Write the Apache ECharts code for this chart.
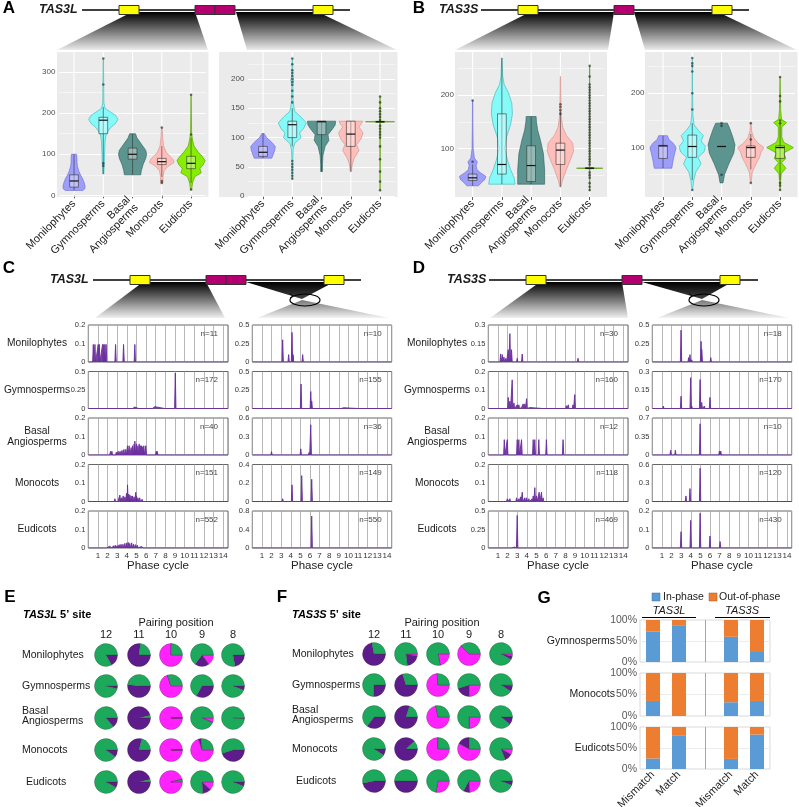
<!DOCTYPE html>
<html><head><meta charset="utf-8">
<script src="https://cdn.jsdelivr.net/npm/echarts/dist/echarts.min.js"></script>
<style>html,body{margin:0;padding:0;background:#fff}#c{width:799px;height:807px}</style>
</head><body><div id="c"></div>
<script>
const FONT = "'Liberation Sans', Arial, Helvetica, sans-serif";
const groups = ['Monilophytes','Gymnosperms','Basal\nAngiosperms','Monocots','Eudicots'];
const rowNames = ['Monilophytes','Gymnosperms','Basal\nAngiosperms','Monocots','Eudicots'];
const violinFill = ['#9d9dfa','#86f9f9','#5c9590','#ffbeb9','#86ee00'];
const violinLine = ['#6a6ad0','#39b3b3','#2e5d59','#cf8e89','#4f9000'];

// ---- Panel A (TAS3L) violins: [value, half-width in category bands]
const aL_shapes = [
  [[12,0.3],[16,0.37],[22,0.38],[30,0.35],[40,0.3],[50,0.22],[60,0.16],[70,0.12],[80,0.1],[90,0.1],[100,0.09]],
  [[52,0.02],[70,0.03],[90,0.04],[110,0.05],[130,0.06],[150,0.1],[165,0.25],[175,0.42],[185,0.5],[195,0.42],[205,0.2],[212,0.06],[225,0.02],[260,0.015],[300,0.01],[333,0.005]],
  [[50,0.28],[60,0.3],[75,0.36],[90,0.45],[100,0.48],[110,0.45],[125,0.3],[140,0.15],[150,0.1]],
  [[30,0.04],[45,0.04],[60,0.08],[70,0.2],[80,0.42],[88,0.38],[95,0.28],[105,0.15],[120,0.06],[140,0.03],[165,0.01]],
  [[14,0.02],[30,0.05],[45,0.12],[55,0.35],[65,0.3],[75,0.42],[85,0.48],[95,0.38],[105,0.25],[120,0.1],[135,0.05],[150,0.02],[200,0.01],[245,0.005]]
];
const aL_box = [[12,20,35,50,100],[52,150,183,190,215],[50,88,100,115,150],[45,75,82,90,120],[30,65,78,95,140]];
const aL_out = [[1,270],[1,333],[1,72],[1,78],[3,30],[3,35],[3,165],[4,14],[4,148],[4,245]];

const aR_shapes = [
  [[65,0.3],[70,0.34],[78,0.4],[85,0.42],[92,0.3],[100,0.12],[107,0.04]],
  [[30,0.01],[60,0.015],[80,0.03],[90,0.08],[100,0.3],[108,0.25],[115,0.38],[125,0.48],[135,0.3],[145,0.08],[160,0.03],[190,0.02],[198,0.05],[205,0.02],[235,0.005]],
  [[42,0.03],[55,0.03],[70,0.05],[85,0.12],[95,0.25],[105,0.22],[115,0.38],[122,0.47],[128,0.48]],
  [[42,0.02],[55,0.05],[65,0.12],[78,0.28],[88,0.2],[98,0.35],[108,0.42],[118,0.28],[125,0.38],[128,0.4]],
  [[10,0.005],[126,0.012],[127,0.5],[128,0.012],[170,0.005]]
];
const aR_box = [[65,68,75,85,107],[85,100,122,128,150],[42,105,127,128,128],[42,85,106,128,128],[127,127,127,127,127]];
const aR_out = [[1,30],[1,35],[1,40],[1,45],[1,50],[1,55],[1,60],[1,160],[1,170],[1,180],[1,190],[1,195],[1,200],[1,205],[1,210],[1,215],[1,225],[1,235],
  [4,10],[4,25],[4,42],[4,63],[4,85],[4,100],[4,105],[4,110],[4,115],[4,120],[4,130],[4,135],[4,140],[4,145],[4,150],[4,160],[4,170]];

// ---- Panel B (TAS3S) violins
const bL_shapes = [
  [[30,0.2],[36,0.3],[42,0.42],[48,0.45],[54,0.28],[60,0.15],[68,0.12],[75,0.16],[82,0.06],[100,0.02],[140,0.01],[190,0.005]],
  [[33,0.45],[45,0.42],[60,0.3],[80,0.18],[100,0.1],[120,0.15],[145,0.3],[165,0.36],[185,0.34],[205,0.22],[220,0.08],[235,0.03],[270,0.005]],
  [[33,0.46],[60,0.46],[90,0.42],[115,0.32],[135,0.22],[150,0.18],[160,0.17]],
  [[28,0.02],[40,0.07],[60,0.2],[80,0.35],[95,0.45],[110,0.42],[125,0.2],[140,0.08],[160,0.03],[190,0.015],[235,0.005]],
  [[20,0.005],[62,0.01],[63,0.45],[64,0.01],[255,0.005]]
];
const bL_box = [[30,40,45,52,70],[33,52,70,165,270],[33,38,68,105,160],[28,70,97,110,170],[63,63,63,63,63]];
const bL_out = [[0,75],[0,190],[3,165],[3,172],[3,178],[3,183],
  [4,22],[4,28],[4,35],[4,45],[4,50],[4,55],[4,70],[4,75],[4,80],[4,85],[4,90],[4,95],[4,100],[4,105],[4,110],[4,115],[4,120],[4,125],[4,130],[4,135],[4,140],[4,145],[4,150],[4,155],[4,160],[4,165],[4,170],[4,175],[4,180],[4,185],[4,190],[4,195],[4,200],[4,205],[4,210],[4,215],[4,220],[4,235],[4,255]];

const bR_shapes = [
  [[62,0.3],[75,0.34],[90,0.4],[100,0.45],[108,0.35],[115,0.2],[122,0.15]],
  [[22,0.01],[40,0.05],[55,0.12],[70,0.3],[82,0.2],[92,0.4],[102,0.45],[112,0.3],[122,0.38],[132,0.2],[142,0.06],[160,0.02],[200,0.01],[265,0.005]],
  [[35,0.05],[50,0.1],[70,0.25],[90,0.42],[105,0.46],[120,0.38],[135,0.28],[145,0.2]],
  [[35,0.01],[55,0.05],[70,0.18],[82,0.3],[92,0.35],[100,0.45],[108,0.25],[118,0.1],[130,0.03],[145,0.01]],
  [[22,0.005],[40,0.02],[52,0.04],[62,0.2],[72,0.05],[80,0.2],[90,0.12],[100,0.46],[110,0.12],[120,0.06],[138,0.06],[146,0.22],[152,0.05],[170,0.02],[230,0.005]]
];
const bR_box = [[62,80,103,104,122],[40,82,102,123,145],[102,102,102,102,102],[60,82,100,103,125],[40,80,100,103,145]];
const bR_out = [[1,22],[1,170],[1,200],[1,240],[1,250],[1,255],[1,265],[2,50],[2,140],[2,145],[3,35],[3,115],[3,145],[4,22],[4,30],[4,35],[4,145],[4,150],[4,185],[4,195],[4,230]];

// ---- Panels C / D: phasing spikes [phase cycle, fraction]
const cL_moni  = [[0.52,0.095],[0.69,0.095],[1.03,0.095],[1.14,0.095],[1.48,0.095],[1.6,0.095],[1.72,0.095],[1.85,0.095],[2.83,0.095],[3.66,0.095],[4.83,0.095]];
const cL_gymno = [[2.59,0.008],[3.62,0.015],[4.66,0.015],[4.83,0.02],[5.28,0.012],[5.86,0.01],[6.72,0.02],[6.9,0.025],[7.0,0.03],[8.0,0.02],[9.03,0.48],[9.66,0.008]];
const cL_basal = [[2.3,0.02],[2.45,0.02],[2.9,0.015],[3.1,0.02],[3.3,0.02],[3.5,0.025],[3.7,0.03],[3.9,0.03],[4.07,0.05],[4.24,0.05],[4.45,0.04],[4.6,0.05],[4.76,0.06],[4.83,0.075],[5.0,0.06],[5.15,0.05],[5.28,0.06],[5.4,0.05],[5.52,0.05],[5.65,0.045],[5.76,0.05],[5.97,0.05],[7.05,0.02],[7.15,0.02]];
const cL_mono  = [[1.55,0.008],[2.76,0.015],[3.0,0.01],[3.28,0.035],[3.45,0.02],[3.62,0.03],[3.8,0.025],[3.97,0.045],[4.07,0.09],[4.2,0.04],[4.31,0.035],[4.45,0.03],[4.59,0.03],[4.75,0.025],[4.93,0.05],[5.0,0.03],[5.15,0.02],[5.34,0.02],[5.59,0.012],[7.86,0.005]];
const cL_eudi  = [[0.9,0.002],[1.5,0.003],[2.0,0.006],[2.2,0.01],[2.4,0.015],[2.6,0.012],[2.8,0.015],[3.0,0.013],[3.2,0.018],[3.4,0.02],[3.6,0.02],[3.8,0.025],[4.0,0.028],[4.15,0.03],[4.3,0.025],[4.5,0.028],[4.7,0.022],[4.9,0.018],[5.1,0.015],[5.3,0.01],[5.5,0.008],[5.8,0.005],[6.2,0.003],[6.7,0.002]];
const cR_moni  = [[3.16,0.3],[3.78,0.1],[4.13,0.4],[4.24,0.1],[5.24,0.1]];
const cR_gymno = [[1.5,0.004],[3.1,0.004],[4.1,0.02],[5.07,0.33],[6.08,0.23],[6.18,0.1],[6.35,0.01],[6.6,0.01],[6.9,0.008],[7.3,0.005],[9.3,0.008],[9.5,0.01],[11.1,0.005]];
const cR_basal = [[2.0,0.055],[4.03,0.025],[5.04,0.1],[5.9,0.04],[6.08,0.49]];
const cR_mono  = [[2.1,0.005],[3.16,0.03],[4.13,0.18],[5.14,0.28],[6.18,0.24]];
const cR_eudi  = [[4.13,0.01],[5.1,0.02],[6.18,0.69]];
const dL_moni  = [[1.28,0.065],[1.45,0.06],[1.62,0.04],[1.83,0.03],[2.07,0.1],[2.24,0.23],[2.41,0.1],[3.0,0.03],[3.52,0.065],[9.31,0.03]];
const dL_gymno = [[1.7,0.005],[2.07,0.06],[2.24,0.04],[2.48,0.155],[2.66,0.03],[3.0,0.02],[3.17,0.02],[3.45,0.005],[3.62,0.025],[3.79,0.025],[3.97,0.053],[4.3,0.005],[5.69,0.008],[6.03,0.01],[7.41,0.008],[7.76,0.01],[8.1,0.015],[8.3,0.02],[8.79,0.02],[8.97,0.075],[9.66,0.005],[12.9,0.005]];
const dL_basal = [[1.66,0.083],[1.97,0.083],[3.0,0.083],[3.17,0.083],[3.45,0.083],[4.66,0.083],[4.83,0.083],[5.24,0.083],[6.03,0.083],[7.76,0.083]];
const dL_mono  = [[1.55,0.005],[1.97,0.015],[2.24,0.015],[2.59,0.01],[2.93,0.02],[3.17,0.015],[3.34,0.025],[3.52,0.05],[3.79,0.02],[3.97,0.02],[4.21,0.015],[4.55,0.015],[4.66,0.03],[4.83,0.075],[5.0,0.03],[5.28,0.05],[5.52,0.05],[5.69,0.02],[5.93,0.01],[6.45,0.005],[6.79,0.005],[7.41,0.005],[8.21,0.005],[8.52,0.005],[11.38,0.005]];
const dL_eudi  = [[2.0,0.004],[2.5,0.01],[2.7,0.012],[2.85,0.01],[3.0,0.44],[3.2,0.008],[4.6,0.005],[5.0,0.005],[5.5,0.004]];
const dR_moni  = [[1.2,0.01],[1.5,0.012],[1.8,0.012],[2.1,0.012],[2.5,0.015],[2.99,0.43],[3.78,0.06],[3.92,0.1],[4.1,0.03],[4.5,0.005],[5.07,0.28],[5.14,0.17],[6.08,0.06]];
const dR_gymno = [[1.15,0.02],[2.47,0.01],[2.99,0.1],[3.99,0.25],[4.1,0.02],[4.97,0.235],[5.14,0.05],[5.42,0.02],[6.0,0.09],[7.05,0.005],[9.93,0.01],[11.8,0.005],[12.15,0.005],[12.5,0.005]];
const dR_basal = [[1.91,0.09],[2.4,0.09],[4.97,0.59],[6.98,0.075],[7.12,0.075]];
const dR_mono  = [[1.84,0.01],[3.5,0.09],[3.92,0.21],[4.97,0.54],[6.0,0.005],[7.1,0.005]];
const dR_eudi  = [[1.0,0.003],[1.9,0.004],[2.4,0.004],[2.99,0.088],[3.99,0.149],[4.97,0.188],[6.0,0.065],[7.05,0.035],[8.8,0.005],[10.5,0.002]];
const cL_ymax = [0.2,0.5,0.2,0.2,0.2], cR_ymax = [0.5,0.5,0.6,0.4,0.8];
const dL_ymax = [0.3,0.2,0.2,0.2,0.5], dR_ymax = [0.5,0.3,0.7,0.6,0.2];
const cL_n = [11,172,40,151,552], cR_n = [10,155,36,149,550];
const dL_n = [30,160,12,118,469], dR_n = [18,170,10,120,430];
const phaseTicks = [1,2,3,4,5,6,7,8,9,10,11,12,13,14];

// ---- Panels E / F pies: [magenta, purple, green] percents, columns = pairing positions
const pairPos = ['12','11','10','9','8'];
const e_moni  = [[0,17,83],[0,77,23],[75,0.5,24.5],[15,20,65],[0,22,78]];
const e_gymno = [[0,4,96],[0,52,48],[70,0,30],[0,33,67],[0,6,94]];
const e_basal = [[0,14,86],[0,96,4],[99.5,0.5,0],[6,1,93],[0,1,99]];
const e_mono  = [[0,10,90],[0,79,21],[99.5,0.5,0],[70,4,26],[0,45,55]];
const e_eudi  = [[0,8,92],[0,96,4],[96,1,3],[12,12,76],[0,6,94]];
const f_moni  = [[0,72,28],[3,20,77],[22,0,78],[63,0,37],[3,5,92]];
const f_gymno = [[0,25,75],[0,70,30],[74,0,26],[25,20,55],[1,8,91]];
const f_basal = [[0,35,65],[0,80,20],[72,0,28],[25,0,75],[0,11,89]];
const f_mono  = [[0,9,91],[0,88,12],[75,0,25],[58,17,25],[8,11,81]];
const f_eudi  = [[0,47,53],[0,50,50],[28,0,72],[24,9,67],[0,6,94]];

// ---- Panel G stacked bars (%)
const gCats = ['Mismatch','Match','','Mismatch','Match'];
const gRows = ['Gymnosperms','Monocots','Eudicots'];
const gGymnoIn  = [73, 86, null, 60, 26];
const gGymnoOut = [27, 14, null, 40, 74];
const gMonoIn   = [35, 0, null, 32, 35];
const gMonoOut  = [65, 100, null, 68, 65];
const gEudiIn   = [25, 79, null, 24, 82];
const gEudiOut  = [75, 21, null, 76, 18];

// ================= build =================
const chart = echarts.init(document.getElementById('c'), null, {renderer:'canvas', width:799, height:807});
const option = {animation:false, backgroundColor:'#fff', textStyle:{fontFamily:FONT}, grid:[], xAxis:[], yAxis:[], series:[], graphic:{elements:[]}};
const G = option.graphic.elements;

function txt(x, y, text, o) {
  o = o || {};
  const st = {text:text, fill:o.color||'#1a1a1a', fontSize:o.size||11, fontFamily:FONT,
    fontWeight:o.weight||'normal', fontStyle:o.italic?'italic':'normal',
    textAlign:o.align||'left', align:o.align||'left', textVerticalAlign:o.va||'middle', verticalAlign:o.va||'middle',
    lineHeight:o.lh||undefined};
  if (o.rich) st.rich = o.rich;
  return {type:'text', x:x, y:y, z:20, silent:true, style:st};
}

function violinRender(shapes) {
  return function(params, api) {
    const i = api.value(0);
    const band = api.size([1, 0])[0];
    const cs = params.coordSys;
    const cx = api.coord([i, 0])[0];
    const shp = shapes[i];
    const right = shp.map(p => [cx + p[1]*band, api.coord([i, p[0]])[1]]);
    const left = shp.slice().reverse().map(p => [cx - p[1]*band, api.coord([i, p[0]])[1]]);
    const y = k => api.coord([i, api.value(k)])[1];
    const lo = y(1), q1 = y(2), med = y(3), q3 = y(4), hi = y(5);
    const bw = band*0.15;
    return {type:'group', children:[
      {type:'line', shape:{x1:cx, y1:cs.y, x2:cx, y2:cs.y+cs.height}, style:{stroke:'#fff', lineWidth:1.1}},
      {type:'polygon', shape:{points:right.concat(left)}, style:{fill:violinFill[i], stroke:violinLine[i], lineWidth:0.6}},
      {type:'line', shape:{x1:cx, y1:lo, x2:cx, y2:hi}, style:{stroke:'#333', lineWidth:0.6}},
      {type:'rect', shape:{x:cx-bw, y:q3, width:2*bw, height:Math.max(q1-q3,0)}, style:{fill:'rgba(255,255,255,0.35)', stroke:'#333', lineWidth:0.6}},
      {type:'line', shape:{x1:cx-bw, y1:med, x2:cx+bw, y2:med}, style:{stroke:'#111', lineWidth:1.2}}
    ]};
  };
}

function addViolin(p) {
  const gi = option.grid.length, xi = option.xAxis.length, yi = option.yAxis.length;
  option.grid.push({left:p.left, top:52, width:p.width, height:145, containLabel:false, outerBoundsMode:'none'});
  option.xAxis.push({gridIndex:gi, type:'category', data:groups, boundaryGap:true,
    axisLine:{show:false}, axisTick:{show:true, alignWithLabel:true, length:3, lineStyle:{color:'#333', width:0.8}},
    axisLabel:{interval:0, rotate:45, fontSize:11, color:'#1a1a1a', margin:5, lineHeight:11, hideOverlap:false}, splitLine:{show:false}});
  option.yAxis.push({gridIndex:gi, type:'value', min:p.ymin, max:p.ymax, minInterval:p.major, maxInterval:p.major,
    axisLine:{show:false}, axisTick:{show:false},
    axisLabel:{fontSize:8, color:'#4d4d4d', margin:4, formatter: v => (Math.abs(v % p.major) < 1e-6 ? String(v) : '')},
    splitLine:{show:true, showMinLine:false, showMaxLine:false, lineStyle:{color:'#fff', width:1.1}}});
  option.yAxis.push({gridIndex:gi, type:'value', min:p.ymin, max:p.ymax, minInterval:p.major/2, maxInterval:p.major/2,
    axisLine:{show:false}, axisTick:{show:false}, axisLabel:{show:false},
    splitLine:{show:true, showMinLine:false, showMaxLine:false, lineStyle:{color:'#fff', width:0.5}}});
  G.push({type:'rect', z:-1, silent:true, shape:{x:p.bgL, y:52, width:p.bgR-p.bgL, height:145}, style:{fill:'#EBEBEB'}});
  option.series.push({type:'custom', xAxisIndex:xi, yAxisIndex:yi, renderItem:violinRender(p.shapes),
    data:p.box.map((b,i)=>[i].concat(b)), encode:{x:0, y:[1,2,3,4,5]}, z:3, silent:true, clip:false});
  option.series.push({type:'scatter', xAxisIndex:xi, yAxisIndex:yi, data:p.out, symbolSize:2.6, silent:true,
    itemStyle:{color:'rgba(30,30,30,0.75)'}, z:4});
}

addViolin({left:59.4, width:146.3, bgL:57, bgR:208.5, ymin:-4, ymax:349, major:100, shapes:aL_shapes, box:aL_box, out:aL_out});
addViolin({left:248.4, width:146.3, bgL:219, bgR:397.5, ymin:-1.3, ymax:246, major:50, shapes:aR_shapes, box:aR_box, out:aR_out});
addViolin({left:458, width:146.3, bgL:455, bgR:607, ymin:9, ymax:281, major:100, shapes:bL_shapes, box:bL_box, out:bL_out});
addViolin({left:648.4, width:146.3, bgL:645, bgR:797.5, ymin:9, ymax:276, major:100, shapes:bR_shapes, box:bR_box, out:bR_out});

// spike panels
const PURP = '#6a2c9c';
const spikeTops = [325, 371.5, 418, 464.5, 511];
function spikeLine(sp) {
  const w = 0.07, s = sp.slice().sort((a,b)=>a[0]-b[0]), out = [[0,0]];
  s.forEach(d => { out.push([d[0]-w,0],[d[0],d[1]],[d[0]+w,0]); });
  out.push([14.5,0]);
  return out;
}
function addSpikeCol(left, width, datas, ymaxs, ns) {
  datas.forEach((d, r) => {
    const gi = option.grid.length, xi = option.xAxis.length, yi = option.yAxis.length, M = ymaxs[r];
    option.grid.push({left:left, top:spikeTops[r], width:width, height:37, show:true, borderColor:'#666', borderWidth:1,
      backgroundColor:'#fff', containLabel:false, outerBoundsMode:'none'});
    option.xAxis.push({gridIndex:gi, type:'value', min:0, max:14.5, interval:1,
      axisLine:{show:false}, axisTick:{show:false},
      axisLabel:{show:r===4, fontSize:8, color:'#333', margin:4, formatter: v => (phaseTicks.indexOf(v) >= 0 ? String(v) : '')},
      splitLine:{show:true, lineStyle:{color:'#a5a5a5', width:0.8}}});
    option.yAxis.push({gridIndex:gi, type:'value', min:0, max:M, interval:M/2,
      axisLine:{show:false}, axisTick:{show:false},
      axisLabel:{fontSize:7.5, color:'#333', margin:3, formatter: v => (v === 0 ? '0' : String(+v.toFixed(3)))},
      splitLine:{show:false}});
    option.series.push({type:'line', xAxisIndex:xi, yAxisIndex:yi, data:spikeLine(d), showSymbol:false, symbol:'none',
      lineStyle:{color:PURP, width:0.9}, areaStyle:{color:PURP, opacity:0.9}, z:3, silent:true});
    G.push(txt(left + width - 10, spikeTops[r] + 8.5, 'n=' + ns[r], {size:8, color:'#444', align:'right'}));
  });
}
addSpikeCol(88.3, 139.7, [cL_moni,cL_gymno,cL_basal,cL_mono,cL_eudi], cL_ymax, cL_n);
addSpikeCol(252.3, 139.4, [cR_moni,cR_gymno,cR_basal,cR_mono,cR_eudi], cR_ymax, cR_n);
addSpikeCol(488.3, 139.7, [dL_moni,dL_gymno,dL_basal,dL_mono,dL_eudi], dL_ymax, dL_n);
addSpikeCol(652.3, 139.4, [dR_moni,dR_gymno,dR_basal,dR_mono,dR_eudi], dR_ymax, dR_n);
rowNames.forEach((nm, r) => {
  G.push(txt(37, spikeTops[r] + 18.5, nm, {size:10.2, align:'center', lh:11}));
  G.push(txt(437, spikeTops[r] + 18.5, nm, {size:10.2, align:'center', lh:11}));
});
[158, 322, 558, 722].forEach(x => G.push(txt(x, 566, 'Phase cycle', {size:11.5, align:'center', color:'#222'})));

// G stacked bars
const BLUE = '#5b9bd5', ORANGE = '#ed7d31';
const gTops = [620, 673, 727], gHeights = [42, 43, 42];
const gIn = [gGymnoIn, gMonoIn, gEudiIn], gOut = [gGymnoOut, gMonoOut, gEudiOut];
gRows.forEach((nm, r) => {
  const gi = option.grid.length, xi = option.xAxis.length, yi = option.yAxis.length;
  option.grid.push({left:640, top:gTops[r], width:130, height:gHeights[r], show:true, borderColor:'#d9d9d9', borderWidth:1,
    backgroundColor:'#fff', containLabel:false, outerBoundsMode:'none'});
  option.xAxis.push({gridIndex:gi, type:'category', data:gCats, boundaryGap:true,
    axisLine:{show:false}, axisTick:{show:false},
    axisLabel:{show:r===2, interval:0, rotate:45, fontSize:11, color:'#222', margin:4}, splitLine:{show:false}});
  option.yAxis.push({gridIndex:gi, type:'value', min:0, max:100, interval:50,
    axisLine:{show:false}, axisTick:{show:false},
    axisLabel:{fontSize:10.5, color:'#595959', margin:3, formatter:'{value}%'},
    splitLine:{show:true, showMinLine:false, showMaxLine:false, lineStyle:{color:'#ececec'}}});
  option.series.push({type:'bar', name:'In-phase', xAxisIndex:xi, yAxisIndex:yi, stack:'g'+r, data:gIn[r], barWidth:14,
    itemStyle:{color:BLUE}, silent:true,
    markLine:{silent:true, symbol:'none', label:{show:false}, lineStyle:{color:'#a6a6a6', width:1, type:'solid'}, data:[{xAxis:2}]}});
  option.series.push({type:'bar', name:'Out-of-phase', xAxisIndex:xi, yAxisIndex:yi, stack:'g'+r, data:gOut[r], barWidth:14,
    itemStyle:{color:ORANGE}, silent:true});
  G.push(txt(615, gTops[r] + gHeights[r]/2, nm, {size:10.5, align:'right'}));
});

// Pies (E, F)
const MAG = '#ff22ff', PUR = '#5e1b8b', GRN = '#1da95b';
function addPies(cols, rowsY, rows) {
  rows.forEach((row, r) => row.forEach((v, c) => {
    option.series.push({type:'pie', center:[cols[c], rowsY[r]], radius:11.5, startAngle:0, clockwise:true,
      label:{show:false}, labelLine:{show:false}, silent:true, emphasis:{disabled:true},
      itemStyle:{borderColor:'rgba(50,50,50,0.55)', borderWidth:0.5},
      data:[{value:v[0], itemStyle:{color:MAG}}, {value:v[1], itemStyle:{color:PUR}}, {value:v[2], itemStyle:{color:GRN}}]});
  }));
}
const eX = [106,139,171,202,233], eY = [655,686,718,750,782];
const fX = [374,406,438,469,501], fY = [654,685,717,749,781];
addPies(eX, eY, [e_moni, e_gymno, e_basal, e_mono, e_eudi]);
addPies(fX, fY, [f_moni, f_gymno, f_basal, f_mono, f_eudi]);
pairPos.forEach((p, c) => { G.push(txt(eX[c], 635, p, {size:11, align:'center'})); G.push(txt(fX[c], 635, p, {size:11, align:'center'})); });
G.push(txt(176, 623, 'Pairing position', {size:11, align:'center'}));
G.push(txt(442, 623, 'Pairing position', {size:11, align:'center'}));
rowNames.forEach((nm, r) => {
  const dx = r === 4 ? 4 : 0;
  G.push(txt(22 + dx, eY[r] - (r===2 ? 2 : 0), nm, {size:10.5, lh:10}));
  G.push(txt(292 + dx, fY[r] - (r===2 ? 2 : 0), nm, {size:10.5, lh:10}));
});

// gene diagrams & zoom fans
function grad(c0, c1) { return new echarts.graphic.LinearGradient(0,0,0,1,[{offset:0,color:c0},{offset:1,color:c1}]); }
function fan(points, c0, c1) { G.push({type:'polygon', z:4, silent:true, shape:{points:points}, style:{fill:grad(c0,c1)}}); }
function gene(x0, x1, y, boxes, label, lx) {
  G.push({type:'line', z:6, silent:true, shape:{x1:x0, y1:y, x2:x1, y2:y}, style:{stroke:'#000', lineWidth:1.5}});
  boxes.forEach(b => G.push({type:'rect', z:7, silent:true, shape:{x:b[0], y:y-4.5, width:b[1]-b[0], height:9}, style:{fill:b[2], stroke:'#333', lineWidth:1}}));
  G.push(txt(lx, y, label, {size:12.5, weight:'bold', italic:true}));
}
const YEL = '#ffff00', MAGB = '#b4006e';
// A
fan([[132,12],[195,12],[208,50],[57,50]], '#000', '#ebebeb');
fan([[236,12],[318,12],[397,50],[247,50]], '#000', '#ebebeb');
gene(82, 350, 10, [[119,139,YEL],[195,215,MAGB],[215,235,MAGB],[313,333,YEL]], 'TAS3L', 39);
// B
fan([[530,12],[614,12],[608,50],[455,50]], '#000', '#ebebeb');
fan([[634,12],[718,12],[797,50],[645,50]], '#000', '#ebebeb');
gene(481, 749, 10, [[518,538,YEL],[614,634,MAGB],[712,732,YEL]], 'TAS3S', 439);
// C
fan([[143,282],[206,282],[225,318],[95,318]], '#000', '#f0f0f0');
fan([[246,282],[334,282],[302,299]], '#000', '#444');
fan([[302,300],[389,318],[257,318]], '#777', '#f4f4f4');
G.push({type:'ellipse', z:8, silent:true, shape:{cx:305, cy:300, rx:15, ry:6}, style:{fill:'transparent', stroke:'#000', lineWidth:1.2}});
G.push({type:'polyline', z:8, silent:true, shape:{points:[[290,293.5],[293,296],[290,298]]}, style:{stroke:'#000', fill:'transparent', lineWidth:1}});
gene(93, 361, 280, [[130,150,YEL],[206,226,MAGB],[226,246,MAGB],[324,344,YEL]], 'TAS3L', 50);
// D
fan([[540,282],[622,282],[628,318],[490,318]], '#000', '#f0f0f0');
fan([[642,282],[732,282],[702,299]], '#000', '#444');
fan([[702,300],[789,318],[657,318]], '#777', '#f4f4f4');
G.push({type:'ellipse', z:8, silent:true, shape:{cx:704, cy:300, rx:15, ry:6}, style:{fill:'transparent', stroke:'#000', lineWidth:1.2}});
G.push({type:'polyline', z:8, silent:true, shape:{points:[[689,293.5],[692,296],[689,298]]}, style:{stroke:'#000', fill:'transparent', lineWidth:1}});
gene(489, 758, 280, [[526,546,YEL],[622,642,MAGB],[720,740,YEL]], 'TAS3S', 447);

// panel letters
[['A',9,8],['B',419,8],['C',9,268],['D',419,268],['E',10,597],['F',282,597],['G',544,598]].forEach(l =>
  G.push(txt(l[1], l[2], l[0], {size:17, weight:'bold', align:'center', color:'#000'})));
// E/F headers
const rich = {i:{fontStyle:'italic', fontWeight:'bold', fontSize:11, fontFamily:FONT, fill:'#000'}};
G.push(txt(23, 615, '{i|TAS3L} 5\u2019 site', {size:11, weight:'bold', color:'#000', rich:rich}));
G.push(txt(292, 615, '{i|TAS3S} 5\u2019 site', {size:11, weight:'bold', color:'#000', rich:rich}));
// G legend & headers
G.push({type:'rect', z:10, silent:true, shape:{x:652, y:593, width:8, height:8}, style:{fill:BLUE, stroke:'#3a6fa0', lineWidth:0.5}});
G.push(txt(663, 597, 'In-phase', {size:10.5}));
G.push({type:'rect', z:10, silent:true, shape:{x:709, y:593, width:8, height:8}, style:{fill:ORANGE, stroke:'#a85520', lineWidth:0.5}});
G.push(txt(719, 597, 'Out-of-phase', {size:10.5}));
G.push(txt(669, 611, 'TAS3L', {size:11, italic:true, align:'center'}));
G.push(txt(742, 611, 'TAS3S', {size:11, italic:true, align:'center'}));
G.push({type:'line', z:10, silent:true, shape:{x1:642, y1:617.5, x2:696, y2:617.5}, style:{stroke:'#000', lineWidth:1}});
G.push({type:'line', z:10, silent:true, shape:{x1:715, y1:617.5, x2:770, y2:617.5}, style:{stroke:'#000', lineWidth:1}});

chart.setOption(option);
</script></body></html>
